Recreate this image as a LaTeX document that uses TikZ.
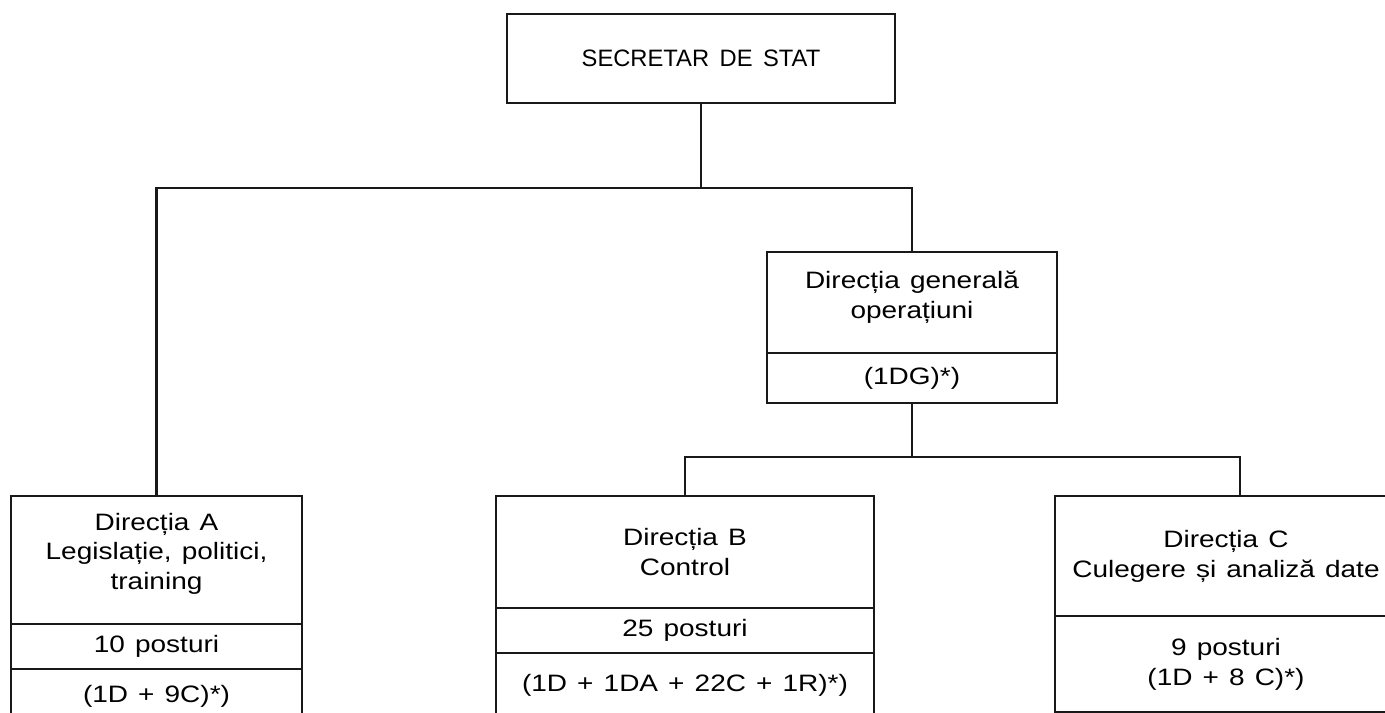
\documentclass[tikz,border=0pt]{standalone}
\usepackage{fontspec}
\setmainfont[FakeStretch=1.18,WordSpace=1.3]{Liberation Sans}
\newfontfamily\headfont[WordSpace=1.6]{Liberation Sans}
\usepackage{tikz}
\usetikzlibrary
  {
    positioning, % place nodes relative to other nodes
  }

\begin{document}
\begin{tikzpicture}
    [
      unit/.style=
        {
          rectangle,
          draw=black!90,
          line width=1.2pt,
          align=center,
          inner sep=2pt,
          outer sep=0pt,
          font=\fontsize{13.5}{17}\selectfont,
        },
      link/.style={draw=black!90, line width=1.2pt},
    ]
    \path[use as bounding box, fill=white] (0,0) rectangle (27.7,-14.26);
    \clip (0,0) rectangle (27.7,-14.26);

    % top level
    \node[unit, minimum width=7.76cm, minimum height=1.78cm,
          font=\headfont\fontsize{13.5}{17}\selectfont] (sec) at (14.02,-1.17)
      {SECRETAR DE STAT};

    % general direction
    \node[unit, minimum width=5.8cm, minimum height=2.02cm, anchor=north] (dg) at (18.24,-5.04)
      {Direcția generală\\operațiuni\\[-0.3cm]};
    \node[unit, minimum width=5.8cm, minimum height=1.0cm] (dg staff) [below=0pt of dg]
      {(1DG)*)};

    % directions A, B, C
    \node[unit, minimum width=5.82cm, minimum height=2.56cm, anchor=north] (dirA) at (3.13,-9.92)
      {Direcția A\\Legislație, politici,\\training\\[-0.25cm]};
    \node[unit, minimum width=5.82cm, minimum height=0.9cm] (dirA posts) [below=0pt of dirA]
      {10 posturi};
    \node[unit, minimum width=5.82cm, minimum height=1.1cm] (dirA staff) [below=0pt of dirA posts]
      {(1D + 9C)*)};

    \node[unit, minimum width=7.56cm, minimum height=2.24cm, anchor=north] (dirB) at (13.7,-9.92)
      {Direcția B\\Control};
    \node[unit, minimum width=7.56cm, minimum height=0.9cm] (dirB posts) [below=0pt of dirB]
      {25 posturi};
    \node[unit, minimum width=7.56cm, minimum height=1.3cm] (dirB staff) [below=0pt of dirB posts]
      {(1D + 1DA + 22C + 1R)*)};

    \node[unit, minimum width=6.84cm, minimum height=2.4cm, anchor=north] (dirC) at (24.52,-9.92)
      {Direcția C\\Culegere și analiză date};
    \node[unit, minimum width=6.84cm, minimum height=1.92cm] (dirC staff) [below=0pt of dirC]
      {9 posturi\\(1D + 8 C)*)};

    % connectors
    \draw[link] (sec.south) -- ++(0,-1.70) coordinate (fork top);
    \draw[link] (dirA.north) |- (fork top) -| (dg.north);
    \draw[link] (dg staff.south) -- ++(0,-1.08) coordinate (fork ops);
    \draw[link] (dirB.north) |- (fork ops) -| ([xshift=0.28cm]dirC.north);
  \end{tikzpicture}
\end{document}
